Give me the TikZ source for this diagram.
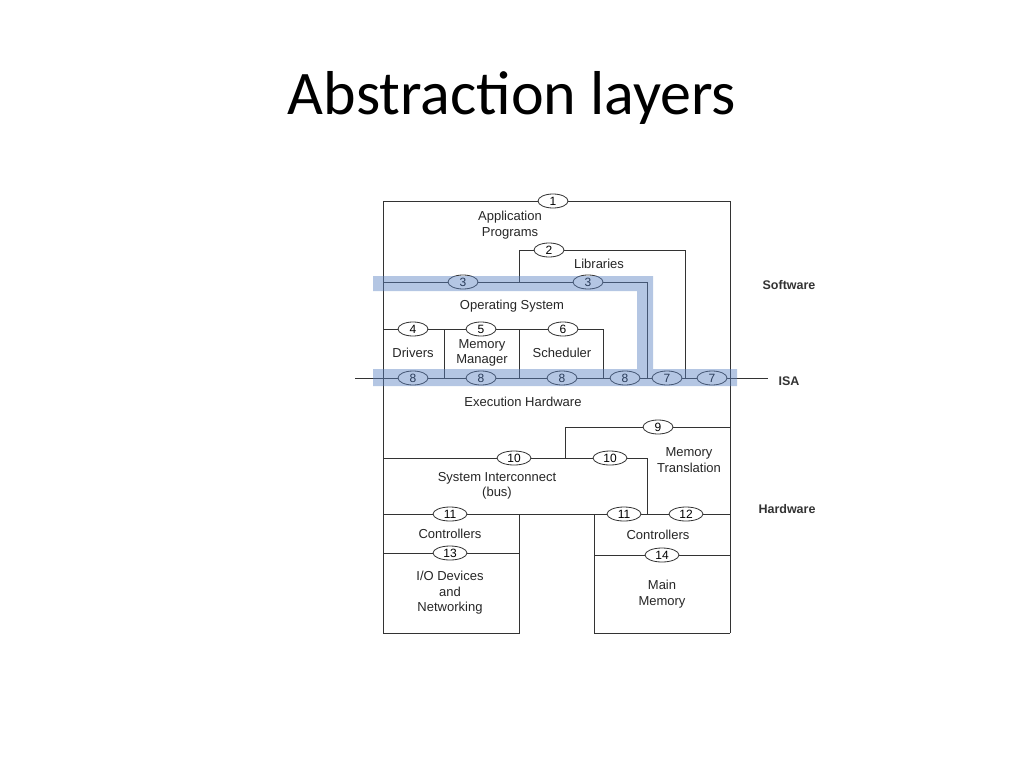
\documentclass[tikz,border=0pt]{standalone}
\usepackage{fontspec}
\setmainfont{Liberation Sans}
\newfontfamily\titlefont{Carlito}
\usetikzlibrary{shapes.geometric}
\begin{document}
\begin{tikzpicture}[x=1pt,y=-1pt,
  ln/.style={draw=black!80,line width=0.9pt},
  ov/.style={ellipse,draw=black!80,line width=0.8pt,fill=white,minimum width=30pt,minimum height=14pt,inner sep=0pt,font=\fontsize{12}{12}\selectfont},
  lab/.style={font=\fontsize{13}{15.5}\selectfont,align=center,text=black!85},
  side/.style={font=\bfseries\fontsize{12.5}{14}\selectfont,text=black!80},
  hl/.style={fill={rgb,255:red,90;green,130;blue,195},opacity=0.45}]
\useasboundingbox[fill=white] (0,0) rectangle (1024,768);
\node[font=\titlefont\fontsize{62}{66}\selectfont] (title) at (512,98) {Abstraction layers};
% frame lines
\draw[ln] (383,633) -- (383,201) -- (730,201) -- (730,633);
\draw[ln] (519,282) -- (519,250) -- (685,250) -- (685,378);
\draw[ln] (383,282) -- (647,282) -- (647,378);
\draw[ln] (383,329) -- (603,329) -- (603,378);
\draw[ln] (444,329) -- (444,378);
\draw[ln] (519,329) -- (519,378);
\draw[ln] (355,378) -- (768,378);
\draw[ln] (565,458) -- (565,427) -- (730,427);
\draw[ln] (383,458) -- (647,458) -- (647,514);
\draw[ln] (383,514) -- (730,514);
\draw[ln] (519,514) -- (519,633) -- (383,633);
\draw[ln] (594,514) -- (594,633) -- (730,633);
\draw[ln] (383,553) -- (519,553);
\draw[ln] (594,555) -- (730,555);
% ovals
\node[ov] (o1) at (553,201) {1};
\node[ov] (o2) at (549,250) {2};
\node[ov] (o3a) at (463,282) {3};
\node[ov] (o3b) at (588,282) {3};
\node[ov] (o4) at (413,329) {4};
\node[ov] (o5) at (481,329) {5};
\node[ov] (o6) at (563,329) {6};
\node[ov] (o8a) at (413,378) {8};
\node[ov] (o8b) at (481,378) {8};
\node[ov] (o8c) at (562,378) {8};
\node[ov] (o8d) at (625,378) {8};
\node[ov] (o7a) at (667,378) {7};
\node[ov] (o7b) at (712,378) {7};
\node[ov] (o9) at (658,427) {9};
\node[ov,minimum width=34pt] (o10a) at (514,458) {10};
\node[ov,minimum width=34pt] (o10b) at (610,458) {10};
\node[ov,minimum width=34pt] (o11a) at (450,514) {11};
\node[ov,minimum width=34pt] (o11b) at (624,514) {11};
\node[ov,minimum width=34pt] (o12) at (686,514) {12};
\node[ov,minimum width=34pt] (o13) at (450,553) {13};
\node[ov,minimum width=34pt] (o14) at (662,555) {14};
% highlight
\fill[hl] (373,276) -- (653,276) -- (653,369) -- (737,369) -- (737,386) -- (373,386) -- (373,369) -- (637,369) -- (637,291) -- (373,291) -- cycle;
% labels
\node[lab] (tapp) at (510,225) {Application\\Programs};
\node[lab] (tlib) at (599,264) {Libraries};
\node[lab] (tos) at (512,306) {Operating System};
\node[lab] (tdrv) at (413,353) {Drivers};
\node[lab] (tmm) at (482,353) {Memory\\Manager};
\node[lab] (tsch) at (562,353) {Scheduler};
\node[lab] (texe) at (523,402) {Execution Hardware};
\node[lab] (tmt) at (689,460) {Memory\\Translation};
\node[lab] (tbus) at (497,486) {System Interconnect\\(bus)};
\node[lab] (tc1) at (450,534) {Controllers};
\node[lab] (tc2) at (658,535) {Controllers};
\node[lab] (tio) at (450,593) {I/O Devices\\and\\Networking};
\node[lab] (tmem) at (662,594) {Main\\Memory};
\node[side] (tsw) at (789,285) {Software};
\node[side] (tisa) at (789,381) {ISA};
\node[side] (thw) at (787,509) {Hardware};
\end{tikzpicture}
\end{document}
